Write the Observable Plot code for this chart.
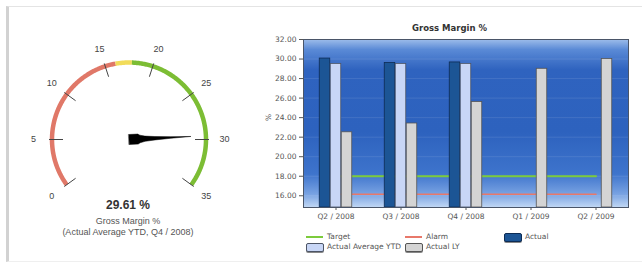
<!DOCTYPE html>
<html>
<head>
<meta charset="utf-8">
<script src="https://cdn.jsdelivr.net/npm/d3@7"></script>
<script src="https://cdn.jsdelivr.net/npm/@observablehq/plot@0.6"></script>
<style>
  html, body { margin: 0; padding: 0; background: #ffffff; }
  body { width: 642px; height: 270px; position: relative; overflow: hidden; font-family: "DejaVu Sans", sans-serif; }
  .abs { position: absolute; }
  .card { left: 6px; top: 6px; width: 640px; height: 256px; border-left: 3px solid #d2d2d2; border-top: 1px solid #e4e4e4; border-bottom: 1px solid #efefef; box-sizing: border-box; }
  .gtxt { font-family: "Liberation Sans", Arial, sans-serif; color: #555; text-align: center; width: 256px; left: 0; }
  .leg { font-family: "DejaVu Sans", sans-serif; font-size: 7.5px; color: #555; white-space: nowrap; line-height: 10px; }
</style>
</head>
<body>
<div class="abs card"></div>
<div id="gauge" class="abs" style="left:0;top:0;"></div>
<div id="gval" class="abs gtxt" style="top:198px;font-size:12px;font-weight:bold;color:#333;"></div>
<div class="abs gtxt" style="top:216px;font-size:9px;">Gross Margin %</div>
<div id="gsub" class="abs gtxt" style="top:227px;font-size:9px;"></div>
<div id="title" class="abs" style="left:262px;width:375px;top:23px;text-align:center;font-family:'DejaVu Sans';font-weight:bold;font-size:8.5px;color:#333;">Gross Margin %</div>
<div class="abs" style="left:265px;top:113px;font-family:'DejaVu Sans';font-size:7.5px;color:#555;transform:rotate(-90deg);">%</div>
<div id="bars" class="abs" style="left:262px;top:20px;"></div>
<div id="legend"></div>
<script>
// ---------- data ----------
const quarters = ["Q2 / 2008", "Q3 / 2008", "Q4 / 2008", "Q1 / 2009", "Q2 / 2009"];
const actual   = [30.05, 29.6, 29.65, null, null];
const avgYTD   = [29.5, 29.5, 29.5, null, null];
const actualLY = [22.5, 23.4, 25.6, 29.0, 30.0];
const target   = [18, 18, 18, 18, 18];
const alarm    = [16.15, 16.15, 16.15, 16.15, 16.15];
const yTicks   = [16, 18, 20, 22, 24, 26, 28, 30, 32];

const gaugeValue = 29.61;
const gaugeLabel = "(Actual Average YTD, Q4 / 2008)";
const gaugeTicks = [0, 5, 10, 15, 20, 25, 30, 35];
const gaugeStops = [0, 16.1, 17.8, 35]; // red | yellow | green

// ---------- gauge ----------
const gMin = gaugeTicks[0], gMax = gaugeTicks[gaugeTicks.length - 1];
const ang = v => (-126 + (v - gMin) / (gMax - gMin) * 252) * Math.PI / 180;
const pol = (v, r) => ({x: r * Math.sin(ang(v)), y: r * Math.cos(ang(v))});
const R = 77;
const bandColors = ["#e07868", "#f2dc5a", "#7cbd34"];
const arcMarks = bandColors.map((c, i) => {
  const a = gaugeStops[i], b = gaugeStops[i + 1];
  const pts = d3.range(a, b, 0.1).concat([b]).map(v => pol(v, R));
  return Plot.line(pts, {x: "x", y: "y", stroke: c, strokeWidth: 4.5, strokeLinecap: "butt"});
});
const tickLines = gaugeTicks.map(v => ({v, a: pol(v, 66), b: pol(v, 80)}));
const tickLabels = gaugeTicks.map(v => ({v, ...pol(v, 95.5)}));
// needle outline (along, across) relative to the needle direction
const needleShape = [[0,-5],[9,-5],[11,-3.8],[16,-2.6],[26,-1.7],[42,-0.8],[62,0],[42,0.8],[26,1.7],[16,2.6],[11,3.8],[9,5],[0,5]];
const th = ang(gaugeValue);
const needle = needleShape.map(([s, n]) => ({
  x: s * Math.sin(th) + n * Math.cos(th),
  y: s * Math.cos(th) - n * Math.sin(th)
}));

const gauge = Plot.plot({
  width: 256, height: 250,
  margin: 0,
  x: {domain: [-128.5, 127.5], axis: null},
  y: {domain: [-111, 139], axis: null},
  style: {background: "transparent", overflow: "visible"},
  marks: [
    ...arcMarks,
    Plot.link(tickLines, {x1: d => d.a.x, y1: d => d.a.y, x2: d => d.b.x, y2: d => d.b.y, stroke: "#444", strokeWidth: 1}),
    Plot.text(tickLabels, {x: "x", y: "y", text: d => String(d.v), fontSize: 9, fill: "#444", fontFamily: "Liberation Sans"}),
    Plot.line(needle, {x: "x", y: "y", fill: "#000", stroke: "#000", strokeWidth: 0.5, curve: "linear-closed"})
  ]
});
document.getElementById("gauge").appendChild(gauge);
document.getElementById("gval").textContent = gaugeValue.toFixed(2) + " %";
document.getElementById("gsub").textContent = gaugeLabel;

// ---------- bar chart ----------
const rows = quarters.map((q, i) => ({q, actual: actual[i], avg: avgYTD[i], ly: actualLY[i], target: target[i], alarm: alarm[i]}));
const W = 375, ML = 41, MR = 9;
const bw = (W - ML - MR) / quarters.length;
const barW = 10.5;
const ins = (bw - barW) / 2;
const yMin = 14.8;

const chart = Plot.plot({
  width: W, height: 205,
  marginLeft: ML, marginRight: MR, marginTop: 19, marginBottom: 18,
  x: {domain: quarters, padding: 0, label: null, tickSize: 3, tickPadding: 3},
  y: {domain: [yMin, 32], ticks: yTicks, tickFormat: d => d.toFixed(2), label: null, tickSize: 4, tickPadding: 3},
  style: {background: "transparent", fontFamily: "DejaVu Sans", fontSize: "7.5px", color: "#555", overflow: "visible"},
  marks: [
    Plot.frame({fill: "url(#gmbg)", stroke: null}),
    Plot.ruleY(yTicks, {stroke: "#ffffff", strokeOpacity: 0.1}),
    Plot.lineY(rows, {x: "q", y: "target", stroke: "#7ccb3c", strokeWidth: 2}),
    Plot.lineY(rows, {x: "q", y: "alarm", stroke: "#e8786a", strokeWidth: 1.5}),
    Plot.barY(rows.filter(d => d.actual != null), {x: "q", y1: yMin, y2: "actual", insetLeft: ins, insetRight: ins, dx: -11, fill: "#1c5595", stroke: "#0d2c55", strokeWidth: 0.8}),
    Plot.barY(rows.filter(d => d.avg != null), {x: "q", y1: yMin, y2: "avg", insetLeft: ins, insetRight: ins, dx: 0, fill: "#c8d6f6", stroke: "#4d5566", strokeWidth: 0.8}),
    Plot.barY(rows.filter(d => d.ly != null), {x: "q", y1: yMin, y2: "ly", insetLeft: ins, insetRight: ins, dx: 11, fill: "#d4d4d4", stroke: "#555", strokeWidth: 0.8}),
    Plot.frame({stroke: "#4a5568", strokeWidth: 1})
  ]
});
// gradient definition for the plot background
const defs = d3.create("svg:defs");
const lg = defs.append("linearGradient").attr("id", "gmbg").attr("x1", 0).attr("y1", 0).attr("x2", 0).attr("y2", 1);
[["0%", "#9cbcea"], ["6%", "#5a8ad6"], ["18%", "#2f63bf"], ["55%", "#2d62be"], ["80%", "#3e74cc"], ["92%", "#78a2e2"], ["100%", "#c2d8f4"]]
  .forEach(([o, c]) => lg.append("stop").attr("offset", o).attr("stop-color", c));
chart.insertBefore(defs.node(), chart.firstChild);
document.getElementById("bars").appendChild(chart);

// ---------- legend ----------
const legendItems = [
  {label: "Target", kind: "line", color: "#7ccb3c", x: 306, y: 232},
  {label: "Alarm", kind: "line", color: "#e8786a", x: 405, y: 232},
  {label: "Actual", kind: "box", color: "#1c5595", border: "#0d2c55", x: 504, y: 232},
  {label: "Actual Average YTD", kind: "box", color: "#c8d6f6", border: "#4d5566", x: 306, y: 242},
  {label: "Actual LY", kind: "box", color: "#d4d4d4", border: "#555", x: 405, y: 242}
];
const leg = document.getElementById("legend");
legendItems.forEach(it => {
  const sw = document.createElement("div");
  sw.className = "abs";
  if (it.kind === "line") {
    Object.assign(sw.style, {left: it.x + "px", top: (it.y + 4) + "px", width: "17px", height: "2px", background: it.color});
  } else {
    Object.assign(sw.style, {left: it.x + "px", top: (it.y + 1) + "px", width: "16px", height: "7px", background: it.color, border: "1px solid " + it.border, borderRadius: "2px", boxShadow: "0 1px 0 #888"});
  }
  leg.appendChild(sw);
  const t = document.createElement("div");
  t.className = "abs leg";
  t.style.left = (it.x + 21) + "px";
  t.style.top = it.y + "px";
  t.textContent = it.label;
  leg.appendChild(t);
});
</script>
</body>
</html>
